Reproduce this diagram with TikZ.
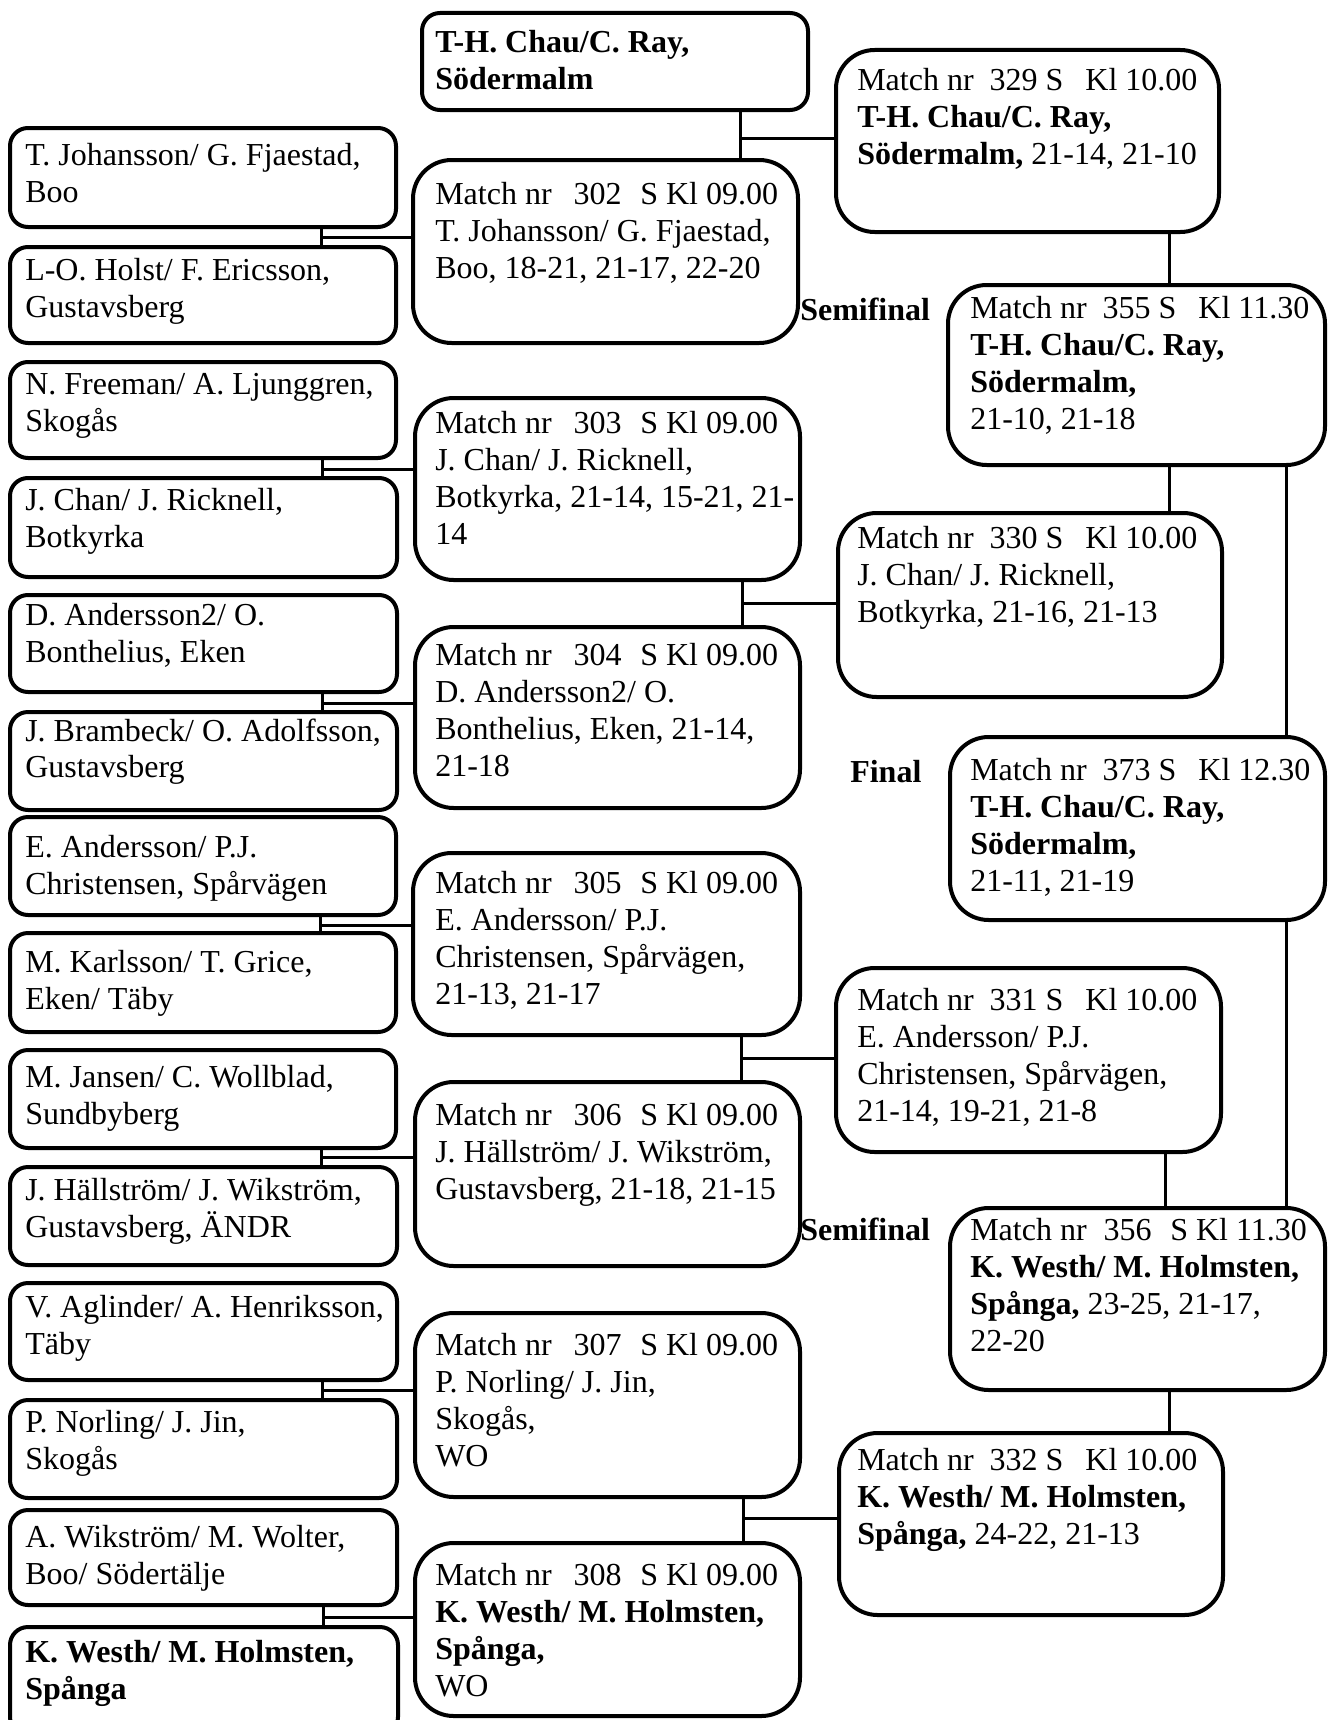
\documentclass[tikz,border=0pt]{standalone}
\usepackage{fontspec}
\setmainfont{Liberation Serif}
\usetikzlibrary{fit}
\newcommand{\hdrA}[1]{Match nr\hspace{16.5pt}#1\hspace{14pt}S Kl 09.00}
\newcommand{\hdrB}[2]{Match nr\hspace{12pt}#1 S\hspace{16.5pt}Kl #2}
\begin{document}
\begin{tikzpicture}[x=0.75pt,y=-0.75pt,
  sbox/.style={draw,line width=3pt,rounded corners=13.5pt,inner sep=0pt},
  mbox/.style={draw,line width=3pt,rounded corners=29pt,inner sep=0pt},
  txt/.style={anchor=north west,yshift=16.3pt,align=left,inner sep=0pt,
    font=\fontsize{24}{27.6}\selectfont,execute at begin node=\strut},
  lbl/.style={anchor=base west,yshift=-1.5pt,inner sep=0pt,font=\fontsize{24}{27.6}\selectfont\bfseries},
  conn/.style={line width=2.25pt}]
\fill[white] (0,0) rectangle (1328,1720);
\useasboundingbox (0,0) rectangle (1328,1720);

% ---------- left column ----------
\node[sbox,fit={(10,128) (396,227)}] (L1) {};
\node[txt] (L1t) at (25,165) {T. Johansson/ G. Fjaestad,\\Boo};
\node[sbox,fit={(10,247) (396,343)}] (L2) {};
\node[txt] (L2t) at (25,280) {L-O. Holst/ F. Ericsson,\\Gustavsberg};
\node[sbox,fit={(10,362) (396,458)}] (L3) {};
\node[txt] (L3t) at (25,395) {N. Freeman/ A. Ljunggren,\\Skogås};
\node[sbox,fit={(10,478) (397,577)}] (L4) {};
\node[txt] (L4t) at (25,510) {J. Chan/ J. Ricknell,\\Botkyrka};
\node[sbox,fit={(10,595) (397,692)}] (L5) {};
\node[txt] (L5t) at (25,625) {D. Andersson2/ O.\\Bonthelius, Eken};
\node[sbox,fit={(10,712) (397,810)}] (L6) {};
\node[txt] (L6t) at (25,740) {J. Brambeck/ O. Adolfsson,\\Gustavsberg};
\node[sbox,fit={(10,817) (396,915)}] (L7) {};
\node[txt] (L7t) at (25,857) {E. Andersson/ P.J.\\Christensen, Spårvägen};
\node[sbox,fit={(10,933) (396,1032)}] (L8) {};
\node[txt] (L8t) at (25,972) {M. Karlsson/ T. Grice,\\Eken/ Täby};
\node[sbox,fit={(10,1050) (396,1148)}] (L9) {};
\node[txt] (L9t) at (25,1087) {M. Jansen/ C. Wollblad,\\Sundbyberg};
\node[sbox,fit={(10,1167) (397,1265)}] (L10) {};
\node[txt] (L10t) at (25,1200) {J. Hällström/ J. Wikström,\\Gustavsberg, ÄNDR};
\node[sbox,fit={(10,1283) (397,1380)}] (L11) {};
\node[txt] (L11t) at (25,1317) {V. Aglinder/ A. Henriksson,\\Täby};
\node[sbox,fit={(10,1400) (397,1498)}] (L12) {};
\node[txt] (L12t) at (25,1432) {P. Norling/ J. Jin,\\Skogås};
\node[sbox,fit={(10,1510) (397,1605)}] (L13) {};
\node[txt] (L13t) at (25,1547) {A. Wikström/ M. Wolter,\\Boo/ Södertälje};
\node[sbox,fit={(10,1627) (398,1735)}] (L14) {};
\node[txt] (L14t) at (25,1662) {\textbf{K. Westh/ M. Holmsten,}\\\textbf{Spånga}};

% ---------- middle column ----------
\node[sbox,fit={(422,13) (808,110)}] (THC) {};
\node[txt] (THCt) at (435,52) {\textbf{T-H. Chau/C. Ray,}\\\textbf{Södermalm}};
\node[mbox,fit={(413,160) (798,343)}] (M302) {};
\node[txt] (M302t) at (435,204) {\hdrA{302}\\T. Johansson/ G. Fjaestad,\\Boo, 18-21, 21-17, 22-20};
\node[mbox,fit={(415,398) (800,580)}] (M303) {};
\node[txt] (M303t) at (435,433) {\hdrA{303}\\J. Chan/ J. Ricknell,\\Botkyrka, 21-14, 15-21, 21-\\14};
\node[mbox,fit={(415,627) (800,808)}] (M304) {};
\node[txt] (M304t) at (435,665) {\hdrA{304}\\D. Andersson2/ O.\\Bonthelius, Eken, 21-14,\\21-18};
\node[mbox,fit={(413,853) (800,1035)}] (M305) {};
\node[txt] (M305t) at (435,893) {\hdrA{305}\\E. Andersson/ P.J.\\Christensen, Spårvägen,\\21-13, 21-17};
\node[mbox,fit={(415,1082) (800,1266)}] (M306) {};
\node[txt] (M306t) at (435,1125) {\hdrA{306}\\J. Hällström/ J. Wikström,\\Gustavsberg, 21-18, 21-15};
\node[mbox,fit={(415,1313) (800,1497)}] (M307) {};
\node[txt] (M307t) at (435,1355) {\hdrA{307}\\P. Norling/ J. Jin,\\Skogås,\\WO};
\node[mbox,fit={(415,1543) (800,1716)}] (M308) {};
\node[txt] (M308t) at (435,1585) {\hdrA{308}\\\textbf{K. Westh/ M. Holmsten,}\\\textbf{Spånga,}\\WO};

% ---------- right column ----------
\node[mbox,fit={(836,50) (1219,232)}] (M329) {};
\node[txt] (M329t) at (857,90) {\hdrB{329}{10.00}\\\textbf{T-H. Chau/C. Ray,}\\\textbf{Södermalm,} 21-14, 21-10};
\node[mbox,fit={(948,285) (1325,465)}] (M355) {};
\node[txt] (M355t) at (970,318) {\hdrB{355}{11.30}\\\textbf{T-H. Chau/C. Ray,}\\\textbf{Södermalm,}\\21-10, 21-18};
\node[mbox,fit={(838,513) (1222,697)}] (M330) {};
\node[txt] (M330t) at (857,548) {\hdrB{330}{10.00}\\J. Chan/ J. Ricknell,\\Botkyrka, 21-16, 21-13};
\node[mbox,fit={(950,737) (1325,920)}] (M373) {};
\node[txt] (M373t) at (970,780) {\hdrB{373}{12.30}\\\textbf{T-H. Chau/C. Ray,}\\\textbf{Södermalm,}\\21-11, 21-19};
\node[mbox,fit={(836,968) (1221,1152)}] (M331) {};
\node[txt] (M331t) at (857,1010) {\hdrB{331}{10.00}\\E. Andersson/ P.J.\\Christensen, Spårvägen,\\21-14, 19-21, 21-8};
\node[mbox,fit={(950,1208) (1325,1390)}] (M356) {};
\node[txt] (M356t) at (970,1240) {Match nr\hspace{12.75pt}356\hspace{14pt}S Kl 11.30\\\textbf{K. Westh/ M. Holmsten,}\\\textbf{Spånga,} 23-25, 21-17,\\22-20};
\node[mbox,fit={(839,1433) (1223,1615)}] (M332) {};
\node[txt] (M332t) at (857,1470) {\hdrB{332}{10.00}\\\textbf{K. Westh/ M. Holmsten,}\\\textbf{Spånga,} 24-22, 21-13};

% ---------- labels ----------
\node[lbl] (semi1) at (800,318) {Semifinal};
\node[lbl] (fin) at (850,780) {Final};
\node[lbl] (semi2) at (800,1238) {Semifinal};

% ---------- connectors: first round ----------
\coordinate (j1) at (321,237);
\draw[conn] (j1 |- L1.south) -- (j1 |- L2.north) (j1) -- (j1 -| M302.west);
\coordinate (j2) at (322,469);
\draw[conn] (j2 |- L3.south) -- (j2 |- L4.north) (j2) -- (j2 -| M303.west);
\coordinate (j3) at (322,703);
\draw[conn] (j3 |- L5.south) -- (j3 |- L6.north) (j3) -- (j3 -| M304.west);
\coordinate (j4) at (320,925);
\draw[conn] (j4 |- L7.south) -- (j4 |- L8.north) (j4) -- (j4 -| M305.west);
\coordinate (j5) at (321,1157);
\draw[conn] (j5 |- L9.south) -- (j5 |- L10.north) (j5) -- (j5 -| M306.west);
\coordinate (j6) at (322,1390);
\draw[conn] (j6 |- L11.south) -- (j6 |- L12.north) (j6) -- (j6 -| M307.west);
\coordinate (j7) at (323,1617);
\draw[conn] (j7 |- L13.south) -- (j7 |- L14.north) (j7) -- (j7 -| M308.west);

% ---------- connectors: second round ----------
\coordinate (k1) at (740,138);
\draw[conn] (k1 |- THC.south) -- (k1 |- M302.north) (k1) -- (k1 -| M329.west);
\coordinate (k2) at (742,603);
\draw[conn] (k2 |- M303.south) -- (k2 |- M304.north) (k2) -- (k2 -| M330.west);
\coordinate (k3) at (741,1058);
\draw[conn] (k3 |- M305.south) -- (k3 |- M306.north) (k3) -- (k3 -| M331.west);
\coordinate (k4) at (743,1518);
\draw[conn] (k4 |- M307.south) -- (k4 |- M308.north) (k4) -- (k4 -| M332.west);

% ---------- connectors: right column ----------
\coordinate (r1) at (1169,0);
\coordinate (r3) at (1286,0);
\coordinate (r4) at (1165,0);
\draw[conn] (r1 |- M329.south) -- (r1 |- M355.north);
\draw[conn] (r1 |- M355.south) -- (r1 |- M330.north);
\draw[conn] (r3 |- M355.south) -- (r3 |- M373.north);
\draw[conn] (r3 |- M373.south) -- (r3 |- M356.north);
\draw[conn] (r4 |- M331.south) -- (r4 |- M356.north);
\draw[conn] (r1 |- M356.south) -- (r1 |- M332.north);
\end{tikzpicture}
\end{document}
